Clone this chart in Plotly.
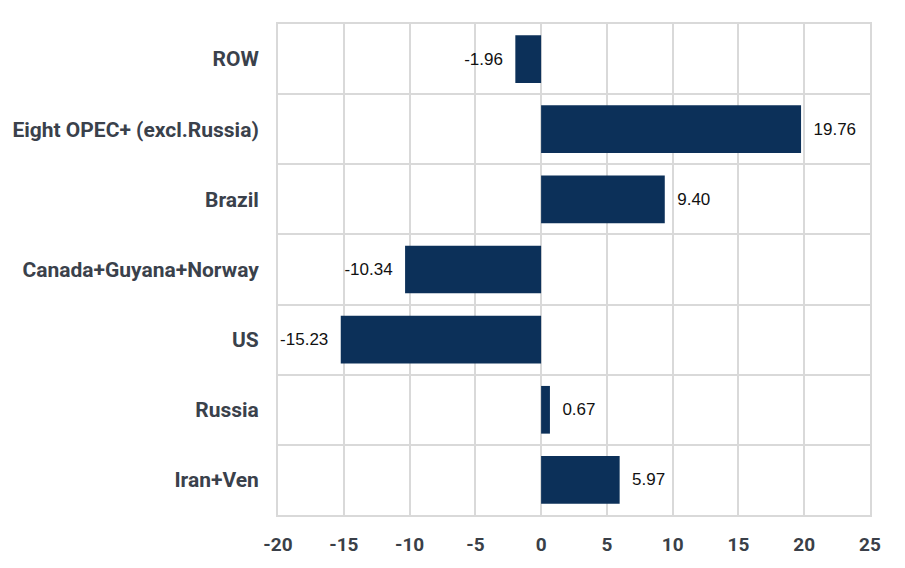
import plotly.graph_objects as go

categories = ["ROW", "Eight OPEC+ (excl.Russia)", "Brazil", "Canada+Guyana+Norway", "US", "Russia", "Iran+Ven"]
values = [-1.96, 19.76, 9.40, -10.34, -15.23, 0.67, 5.97]
x_ticks = [-20, -15, -10, -5, 0, 5, 10, 15, 20, 25]

labels = [("  " + f"{v:.2f}") if v >= 0 else (f"{v:.2f}" + "  ") for v in values]

fig = go.Figure(go.Bar(
    y=categories,
    x=values,
    orientation="h",
    marker=dict(color="#0c3059", line=dict(width=0)),
    width=0.68,
    text=labels,
    textposition="outside",
    cliponaxis=False,
    textfont=dict(family="Liberation Sans, Arial", size=17, color="#111111"),
))

grid = "#d9d9d9"
fig.update_layout(
    width=905, height=568,
    margin=dict(l=270, r=43, t=16, b=61, autoexpand=False),
    paper_bgcolor="white", plot_bgcolor="white",
    showlegend=False,
    xaxis=dict(
        range=[-20, 25], tickvals=x_ticks, ticktext=[str(t) for t in x_ticks],
        showgrid=True, gridcolor=grid, gridwidth=2,
        zeroline=True, zerolinecolor=grid, zerolinewidth=2,
        showline=True, linecolor=grid, linewidth=2, mirror=True,
        ticks="", ticklabelstandoff=11,
        tickfont=dict(family="Roboto", size=19, color="#3a3f48", weight="bold"),
    ),
    yaxis=dict(
        categoryorder="array", categoryarray=categories, autorange="reversed",
        tickson="boundaries", showgrid=True, gridcolor=grid, gridwidth=2,
        showline=True, linecolor=grid, linewidth=2, mirror=True,
        ticks="", ticklabelstandoff=13,
        tickfont=dict(family="Roboto", size=21, color="#3a414b", weight="bold"),
    ),
)

fig.write_html("out.html")
